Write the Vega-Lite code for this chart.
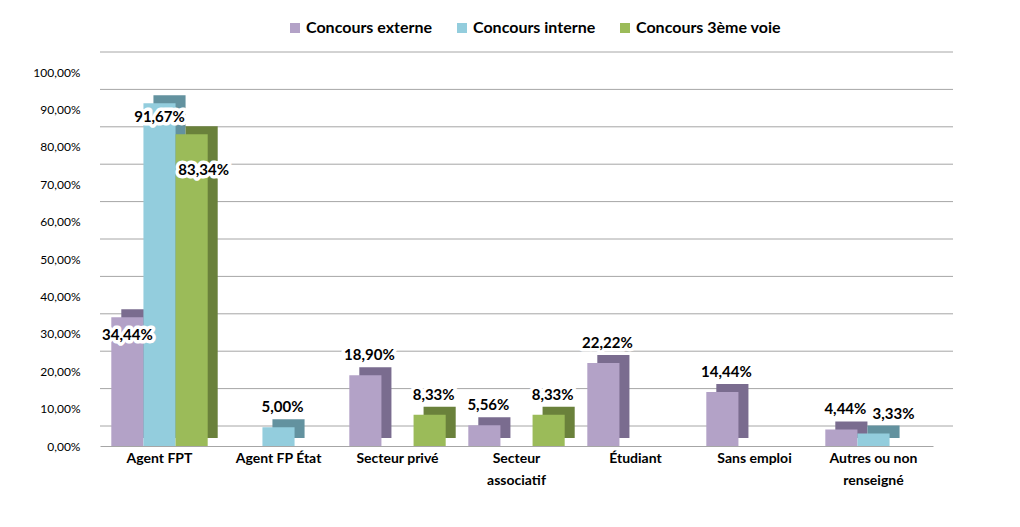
{
  "$schema": "https://vega.github.io/schema/vega-lite/v6.json",
  "width": 833,
  "height": 374,
  "autosize": {"type": "none"},
  "padding": {"left": 100, "top": 72, "right": 87, "bottom": 81},
  "background": "white",
  "config": {
    "locale": {"number": {"decimal": ",", "thousands": " ", "grouping": [3], "currency": ["", " €"]}},
    "font": "Lato",
    "view": {"stroke": null}
  },
  "datasets": {
    "grid": [
      {"value": 0}, {"value": 0.1}, {"value": 0.2}, {"value": 0.3}, {"value": 0.4}, {"value": 0.5},
      {"value": 0.6}, {"value": 0.7}, {"value": 0.8}, {"value": 0.9}, {"value": 1}
    ],
    "main": [
      {"cat": "Agent FPT", "serie": "Concours externe", "value": 0.3444},
      {"cat": "Agent FPT", "serie": "Concours interne", "value": 0.9167},
      {"cat": "Agent FPT", "serie": "Concours 3ème voie", "value": 0.8334},
      {"cat": "Agent FP État", "serie": "Concours externe", "value": 0},
      {"cat": "Agent FP État", "serie": "Concours interne", "value": 0.05},
      {"cat": "Agent FP État", "serie": "Concours 3ème voie", "value": 0},
      {"cat": "Secteur privé", "serie": "Concours externe", "value": 0.189},
      {"cat": "Secteur privé", "serie": "Concours interne", "value": 0},
      {"cat": "Secteur privé", "serie": "Concours 3ème voie", "value": 0.0833},
      {"cat": "Secteur associatif", "serie": "Concours externe", "value": 0.0556},
      {"cat": "Secteur associatif", "serie": "Concours interne", "value": 0},
      {"cat": "Secteur associatif", "serie": "Concours 3ème voie", "value": 0.0833},
      {"cat": "Étudiant", "serie": "Concours externe", "value": 0.2222},
      {"cat": "Étudiant", "serie": "Concours interne", "value": 0},
      {"cat": "Étudiant", "serie": "Concours 3ème voie", "value": 0},
      {"cat": "Sans emploi", "serie": "Concours externe", "value": 0.1444},
      {"cat": "Sans emploi", "serie": "Concours interne", "value": 0},
      {"cat": "Sans emploi", "serie": "Concours 3ème voie", "value": 0},
      {"cat": "Autres ou non renseigné", "serie": "Concours externe", "value": 0.0444},
      {"cat": "Autres ou non renseigné", "serie": "Concours interne", "value": 0.0333},
      {"cat": "Autres ou non renseigné", "serie": "Concours 3ème voie", "value": 0}
    ]
  },
  "encoding": {
    "y": {
      "field": "value", "type": "quantitative", "title": null,
      "scale": {"domain": [0, 1]},
      "axis": {
        "format": ".2%", "title": null, "grid": false, "domain": false, "ticks": false,
        "labelPadding": 20, "labelFontSize": 12, "labelColor": "black", "labelOverlap": false,
        "values": [0, 0.1, 0.2, 0.3, 0.4, 0.5, 0.6, 0.7, 0.8, 0.9, 1]
      }
    }
  },
  "resolve": {"scale": {"color": "independent", "xOffset": "independent"}},
  "layer": [
    {
      "data": {"name": "grid"},
      "mark": {"type": "rule", "color": "#A6A6A6", "strokeWidth": 1, "xOffset": 20, "yOffset": -20}
    },
    {
      "data": {"name": "main"},
      "mark": {"type": "bar"},
      "encoding": {
        "x": {"field": "cat", "type": "nominal", "sort": null},
        "xOffset": {"field": "serie", "sort": ["Concours externe", "Concours interne", "Concours 3ème voie"], "scale": {"range": [10, 106.4]}},
        "yOffset": {"value": -8},
        "color": {
          "field": "serie", "type": "nominal", "legend": null,
          "scale": {"domain": ["Concours externe", "Concours interne", "Concours 3ème voie"], "range": ["#7A6C8F", "#63929F", "#6A813B"]}
        }
      }
    },
    {
      "data": {"name": "main"},
      "mark": {"type": "bar"},
      "encoding": {
        "x": {
          "field": "cat", "type": "nominal", "sort": null,
          "scale": {"paddingInner": 0.19, "paddingOuter": 0.095},
          "axis": {
            "title": null, "labelAngle": 0, "labelAlign": "center", "bandPosition": 0.5, "labelFontWeight": "bold", "labelFontSize": 14,
            "labelColor": "black", "ticks": false, "domainColor": "#A6A6A6", "labelPadding": 12,
            "labelLineHeight": 22, "labelLimit": 200,
            "labelExpr": "datum.value == 'Secteur associatif' ? ['Secteur', 'associatif'] : datum.value == 'Autres ou non renseigné' ? ['Autres ou non', 'renseigné'] : datum.value"
          }
        },
        "xOffset": {"field": "serie", "sort": ["Concours externe", "Concours interne", "Concours 3ème voie"]},
        "color": {
          "field": "serie", "type": "nominal",
          "scale": {"domain": ["Concours externe", "Concours interne", "Concours 3ème voie"], "range": ["#B3A2C7", "#93CDDD", "#9BBB59"]},
          "legend": {
            "title": null, "orient": "none", "legendX": 187, "legendY": -52, "direction": "horizontal",
            "symbolType": "square", "symbolSize": 100, "symbolStrokeWidth": 0,
            "labelFontSize": 16, "labelFontWeight": "bold", "labelColor": "black",
            "columnPadding": 21, "labelOffset": 3, "padding": 0
          }
        }
      }
    },
    {
      "data": {"name": "main"},
      "transform": [{"filter": "datum.value > 0"}],
      "mark": {
        "type": "text", "fontWeight": "bold", "fontSize": 15, "color": "white", "stroke": "white", "strokeWidth": 7, "strokeJoin": "round",
        "dy": {"expr": "datum.value > 0.3 ? (datum.serie == 'Concours 3ème voie' ? 36 : datum.serie == 'Concours interne' ? 14 : 18) : -20"},
        "dx": {"expr": "datum.value > 0.3 ? (datum.serie == 'Concours 3ème voie' ? 12 : 0) : (datum.cat == 'Autres ou non renseigné' && datum.serie == 'Concours interne' ? 20 : 4)"}
      },
      "encoding": {
        "x": {"field": "cat", "type": "nominal", "sort": null},
        "xOffset": {"field": "serie", "sort": ["Concours externe", "Concours interne", "Concours 3ème voie"]},
        "text": {"field": "value", "type": "quantitative", "format": ".2%"}
      }
    },
    {
      "data": {"name": "main"},
      "transform": [{"filter": "datum.value > 0"}],
      "mark": {
        "type": "text", "fontWeight": "bold", "fontSize": 15, "color": "black",
        "dy": {"expr": "datum.value > 0.3 ? (datum.serie == 'Concours 3ème voie' ? 36 : datum.serie == 'Concours interne' ? 14 : 18) : -20"},
        "dx": {"expr": "datum.value > 0.3 ? (datum.serie == 'Concours 3ème voie' ? 12 : 0) : (datum.cat == 'Autres ou non renseigné' && datum.serie == 'Concours interne' ? 20 : 4)"}
      },
      "encoding": {
        "x": {"field": "cat", "type": "nominal", "sort": null},
        "xOffset": {"field": "serie", "sort": ["Concours externe", "Concours interne", "Concours 3ème voie"]},
        "text": {"field": "value", "type": "quantitative", "format": ".2%"}
      }
    }
  ]
}
